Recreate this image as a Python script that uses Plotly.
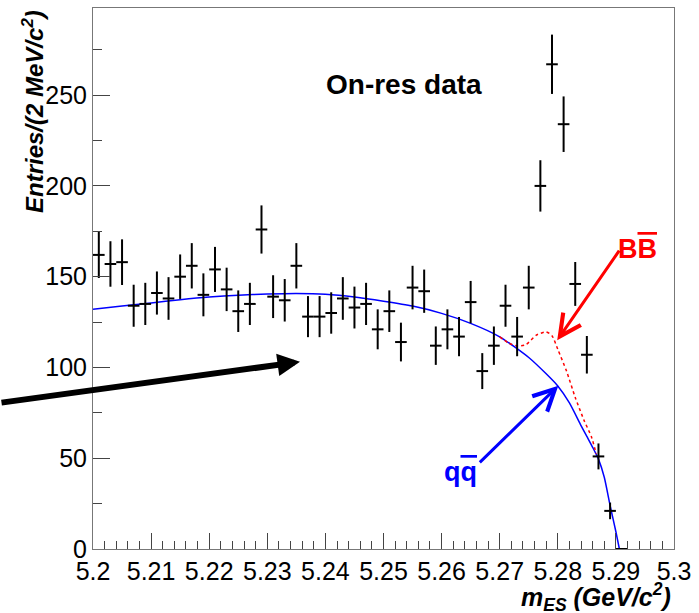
import numpy as np
import plotly.graph_objects as go

# ---- data ----
bin_centers = [5.201 + 0.002 * i for i in range(46)]
counts = [162, 157, 158, 134, 135, 141, 138, 150, 156, 140,
          154, 143, 131, 135, 176, 139, 137, 156, 128, 128,
          130, 138, 133, 135, 121, 131, 114, 144, 142, 112,
          121, 117, 136, 98, 112, 134, 117, 144, 200, 267,
          234, 146, 107, 51, 21, 0]
bin_half_width = 0.001

qq_x = [5.200, 5.205, 5.210, 5.215, 5.220, 5.225, 5.230, 5.235, 5.240, 5.245,
        5.250, 5.255, 5.260, 5.265, 5.270, 5.275, 5.278, 5.280, 5.282, 5.284,
        5.285, 5.286, 5.287, 5.288, 5.289, 5.290, 5.2906]
qq_y = [132, 133.9, 135.5, 137.3, 138.8, 139.8, 140.4, 140.7, 140.3, 138.8,
        136.5, 133.8, 129.8, 124.3, 116.9, 105.5, 96.5, 89.8, 80.5, 68,
        62, 56, 49.5, 39.5, 24, 9.5, 0]

bb_x = [5.2700, 5.2715, 5.2730, 5.2745, 5.2763, 5.2780, 5.2790, 5.2800,
        5.2815, 5.2830, 5.2845, 5.2858, 5.2866]
bb_y = [116.9, 113.5, 111.8, 112.5, 117.8, 119.6, 117.5, 110,
        98, 83.5, 71, 61.7, 52.5]

x_tickvals = [5.2, 5.21, 5.22, 5.23, 5.24, 5.25, 5.26, 5.27, 5.28, 5.29, 5.3]
x_ticktext = ["5.2", "5.21", "5.22", "5.23", "5.24", "5.25", "5.26", "5.27", "5.28", "5.29", "5.3"]
y_tickvals = [0, 50, 100, 150, 200, 250]
y_ticktext = ["0", "50", "100", "150", "200", "250"]

errors = np.sqrt(np.array(counts, dtype=float))

FONT = "Liberation Sans, Arial, Helvetica, sans-serif"

fig = go.Figure()

fig.add_trace(go.Scatter(
    x=qq_x, y=qq_y, mode="lines",
    line=dict(color="#0000ff", width=1.5, shape="spline", smoothing=0.6),
    hoverinfo="skip", showlegend=False))

fig.add_trace(go.Scatter(
    x=bb_x, y=bb_y, mode="lines",
    line=dict(color="#ff0000", width=1.5, dash="3px,3px", shape="spline", smoothing=0.6),
    hoverinfo="skip", showlegend=False))

fig.add_trace(go.Scatter(
    x=bin_centers, y=counts, mode="markers",
    marker=dict(size=1, color="black"),
    error_y=dict(type="data", array=errors, visible=True, width=0, thickness=2, color="black"),
    error_x=dict(type="constant", value=bin_half_width, visible=True, width=0, thickness=2, color="black"),
    cliponaxis=False,
    showlegend=False))

annotations = [
    dict(x=5.2535, y=255.6, xref="x", yref="y", text="<b>On-res data</b>",
         showarrow=False, font=dict(family=FONT, size=28, color="black")),
    # black arrow
    dict(x=5.23563, y=103.1, xref="x", yref="y", text="", showarrow=True,
         ax=-305, ay=41, arrowhead=2, arrowsize=0.75, arrowwidth=6, arrowcolor="black"),
    # red arrow + label
    dict(x=5.2799, y=115.0, xref="x", yref="y", text="", showarrow=True,
         ax=63, ay=-91, arrowhead=5, arrowsize=1.4, arrowwidth=3, arrowcolor="#ff0000"),
    dict(x=5.2938, y=165.2, xref="x", yref="y",
         text='<b>B<span style="text-decoration:overline">B</span></b>',
         showarrow=False, font=dict(family=FONT, size=27, color="#ff0000")),
    # blue arrow + label
    dict(x=5.28009, y=89.9, xref="x", yref="y", text="", showarrow=True,
         ax=-80, ay=78, arrowhead=5, arrowsize=1.4, arrowwidth=3, arrowcolor="#0000ff"),
    dict(x=5.26317, y=42.3, xref="x", yref="y",
         text='<b>q<span style="text-decoration:overline">q</span></b>',
         showarrow=False, font=dict(family=FONT, size=27, color="#0000ff")),
    # axis titles
    dict(x=-0.103, y=0.808, xref="paper", yref="paper", textangle=-90,
         text="<b><i>Entries/(2 MeV/c<sup>2</sup>)</i></b>", showarrow=False,
         xanchor="center", yanchor="middle", font=dict(family=FONT, size=24, color="black")),
    dict(x=0.998, y=-0.088, xref="paper", yref="paper",
         text="<b><i>m<sub>ES</sub> (GeV/c<sup>2</sup>)</i></b>", showarrow=False,
         xanchor="right", yanchor="middle", font=dict(family=FONT, size=25, color="black")),
]

fig.update_layout(
    width=699, height=613,
    margin=dict(l=93, r=25, t=8, b=64, autoexpand=False),
    paper_bgcolor="white", plot_bgcolor="white",
    font=dict(family=FONT, size=25, color="black"),
    annotations=annotations,
    showlegend=False,
)

fig.update_xaxes(
    range=[5.2, 5.3], tickvals=x_tickvals, ticktext=x_ticktext, automargin=False,
    ticks="inside", ticklen=16, tickwidth=1, tickcolor="#444",
    minor=dict(ticks="inside", ticklen=8, tickwidth=1, tickcolor="#444", dtick=0.002, tick0=5.2),
    showline=True, mirror=True, linecolor="#777", linewidth=1,
    showgrid=False, zeroline=False, tickfont=dict(family=FONT, size=25, color="black"))

fig.update_yaxes(
    range=[0, 298], tickvals=y_tickvals, ticktext=y_ticktext, automargin=False,
    ticks="inside", ticklen=17, tickwidth=1, tickcolor="#444",
    minor=dict(ticks="inside", ticklen=9, tickwidth=1, tickcolor="#444", dtick=25, tick0=0),
    showline=True, mirror=True, linecolor="#777", linewidth=1,
    showgrid=False, zeroline=False, tickfont=dict(family=FONT, size=25, color="black"))

fig.write_html("out.html",
               config={"displayModeBar": False},
               post_script="document.body.style.margin='0';document.body.style.padding='0';")
